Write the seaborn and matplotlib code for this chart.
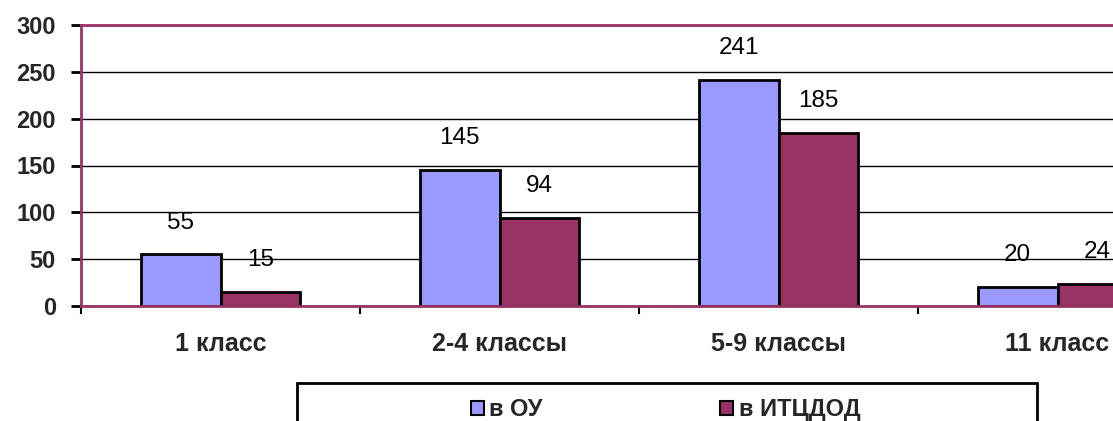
import pandas as pd
import matplotlib
matplotlib.use("Agg")
import matplotlib.pyplot as plt
import seaborn as sns
from matplotlib.patches import Rectangle

# data
categories = ["1 класс", "2-4 классы", "5-9 классы", "11 класс"]
series_names = ["в ОУ", "в ИТЦДОД"]
values_ou = [55, 145, 241, 20]
values_itc = [15, 94, 185, 24]
y_ticks = [0, 50, 100, 150, 200, 250, 300]

colors = ["#9999FF", "#993366"]
border = "#993366"

df = pd.DataFrame({
    "category": categories * 2,
    "series": [series_names[0]] * len(categories) + [series_names[1]] * len(categories),
    "value": values_ou + values_itc,
})

sns.set_style("white")
plt.rcParams['font.family'] = ['Liberation Sans', 'DejaVu Sans']

fig = plt.figure(figsize=(11.13, 4.21), dpi=100)
ax = fig.add_axes([81 / 1113, 115 / 421, 1116 / 1113, 281 / 421])

sns.barplot(
    data=df, x="category", y="value", hue="series",
    palette=colors, width=0.573, gap=0,
    edgecolor="black", linewidth=2, saturation=1,
    ax=ax, legend=False,
)

# value labels
for container in ax.containers:
    for bar in container:
        h = bar.get_height()
        ax.annotate(
            f"{h:.0f}",
            (bar.get_x() + bar.get_width() / 2, h),
            xytext=(0, 15), textcoords="offset points",
            ha="center", va="bottom", fontsize=17.5, color="black",
        )

ax.set_ylim(0, 300)
ax.set_xlim(-0.5, len(categories) - 0.5)
ax.set_yticks(y_ticks)
ax.set_yticklabels([str(t) for t in y_ticks], fontsize=17, fontweight="bold")
ax.tick_params(axis="y", direction="out", length=7, width=2, color="black", pad=11, left=True)

ax.set_xticks(range(len(categories)))
ax.set_xticklabels(categories, fontsize=18, fontweight="bold")
ax.tick_params(axis="x", which="major", length=0, pad=19)
ax.set_xticks([i - 0.5 for i in range(len(categories) + 1)], minor=True)
ax.tick_params(axis="x", which="minor", direction="out", length=6, width=1.5, color="black", bottom=True)

ax.set_xlabel("")
ax.set_ylabel("")

# horizontal gridlines
ax.yaxis.grid(True, color="black", linewidth=1)
ax.set_axisbelow(True)

for side in ["top", "left", "right", "bottom"]:
    ax.spines[side].set_color(border)
    ax.spines[side].set_linewidth(2)

# legend box (cut at the bottom edge like the original)
fig.patches.append(Rectangle((297 / 1113, -0.05), 740 / 1113, (421 - 383) / 421 + 0.05,
                             transform=fig.transFigure, fill=False,
                             edgecolor="black", linewidth=2))
handles = [Rectangle((0, 0), 1, 1, facecolor=c, edgecolor="black", linewidth=1.5) for c in colors]
fig.legend(handles, series_names, loc="center", bbox_to_anchor=(0.598, 0.027),
           ncol=2, frameon=False, prop={"size": 17, "weight": "bold"},
           handlelength=0.55, handleheight=0.55, handletextpad=0.25, columnspacing=7.5)

fig.savefig("out.png", dpi=100)
